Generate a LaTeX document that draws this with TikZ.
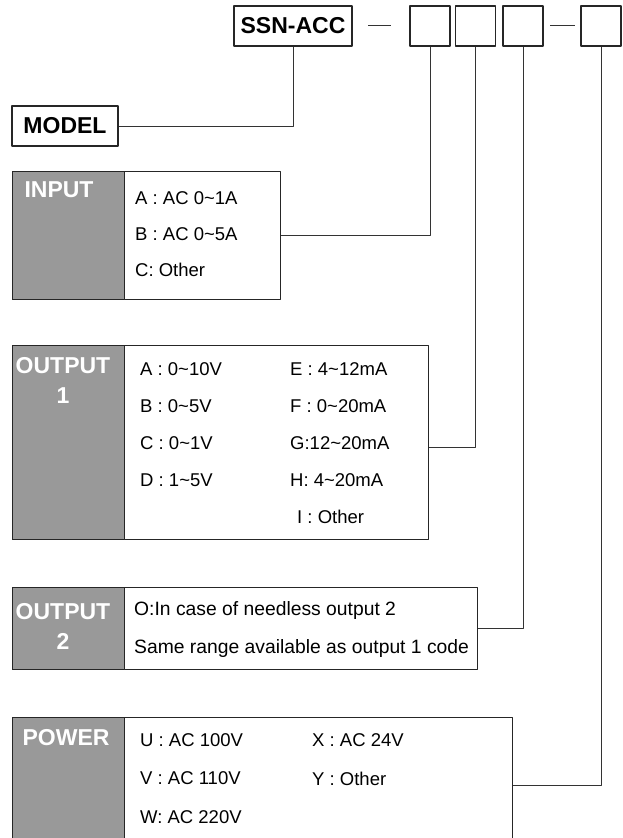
\documentclass[tikz,border=0pt]{standalone}
\usepackage{fontspec}
\setmainfont{Liberation Sans}
\begin{document}
\begin{tikzpicture}[x=1pt,y=-1pt,line join=round,
	frame/.style={draw=black!85,line width=1.4pt,inner sep=0pt,anchor=north west},
	cell/.style={frame,fill=black!40,minimum width=112pt},
	head/.style={font=\fontsize{23}{30}\selectfont\bfseries,text=white,inner sep=0pt,align=center},
	item/.style={font=\fontsize{18.5}{22}\selectfont,inner sep=0pt,anchor=west},
	code/.style={draw=black!85,line width=1.4pt,inner sep=0pt,minimum width=40pt,minimum height=40pt,font=\fontsize{23}{26}\selectfont\bfseries},
	wire/.style={draw=black!80,line width=1pt}]
	\clip (0,0) rectangle (622,838);
	\node[code,minimum width=118pt] (ssn) at (293,26) {SSN-ACC};
	\foreach \n/\x in {c1/430,c2/475.5,c3/523,c4/601}
		\node[code] (\n) at (\x,26) {};
	\draw[wire] (368,25)--(391,25) (550,25)--(575,25);
	\node[code,minimum width=106pt] (model) at (65,126) {MODEL};
	\draw[wire] (model) -| (ssn);
	% input
	\node[frame,minimum width=268pt,minimum height=128pt] (input) at (12,171) {};
	\node[cell,minimum height=128pt] (inputcell) at (12,171) {};
	\node[head] (inputhead) at (59,190) {INPUT};
	\foreach \t [count=\i] in {A : AC 0\textasciitilde 1A,B : AC 0\textasciitilde 5A,C: Other}
		\node[item] (input-\i) at (135,{162+36*\i}) {\t};
	\draw[wire] (input) -| (c1);
	% output 1
	\node[frame,minimum width=416pt,minimum height=194pt] (out1) at (12,345) {};
	\node[cell,minimum height=194pt] (out1cell) at (12,345) {};
	\node[head] (out1head) at (63,380) {OUTPUT\\1};
	\foreach \t [count=\i] in {A : 0\textasciitilde 10V,B : 0\textasciitilde 5V,C : 0\textasciitilde 1V,D : 1\textasciitilde 5V}
		\node[item] (out1-a\i) at (140,{332+37*\i}) {\t};
	\foreach \t [count=\i] in {E : 4\textasciitilde 12mA,F : 0\textasciitilde 20mA,G:12\textasciitilde 20mA,H: 4\textasciitilde 20mA}
		\node[item] (out1-b\i) at (290,{332+37*\i}) {\t};
	\node[item] (out1-b5) at (297,517) {I : Other};
	\draw[wire] (out1.east) ++(0,5) -| (c2);
	% output 2
	\node[frame,minimum width=465pt,minimum height=82pt] (out2) at (12,587) {};
	\node[cell,minimum height=82pt] (out2cell) at (12,587) {};
	\node[head] (out2head) at (63,626) {OUTPUT\\2};
	\node[item,font=\fontsize{19.3}{22}\selectfont] (out2-1) at (134,611) {O:In case of needless output 2};
	\node[item,font=\fontsize{19.3}{22}\selectfont] (out2-2) at (134,649) {Same range available as output 1 code};
	\draw[wire] (out2) -| (c3);
	% power
	\node[frame,minimum width=500pt,minimum height=136pt] (power) at (12,717) {};
	\node[cell,minimum height=136pt] (powercell) at (12,717) {};
	\node[head] (powerhead) at (66,738) {POWER};
	\foreach \t [count=\i] in {U : AC 100V,V : AC 110V,W: AC 220V}
		\node[item] (power-a\i) at (140,{701.5+38.5*\i}) {\t};
	\foreach \t [count=\i] in {X : AC 24V,Y : Other}
		\node[item] (power-b\i) at (312,{701.5+38.5*\i}) {\t};
	\draw[wire] (power) -| (c4);
\end{tikzpicture}
\end{document}
